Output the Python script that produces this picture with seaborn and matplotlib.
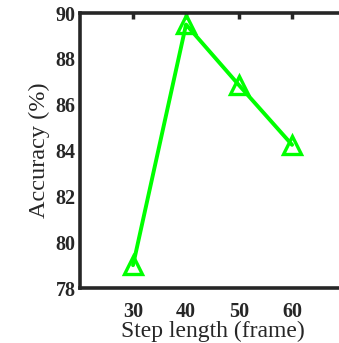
import matplotlib
matplotlib.use('Agg')
import matplotlib.pyplot as plt
import seaborn as sns
import pandas as pd

step_length = [30, 40, 50, 60]
accuracy = [79.0, 89.5, 86.85, 84.25]
x_ticks = [30, 40, 50, 60]
y_ticks = [78, 80, 82, 84, 86, 88, 90]

df = pd.DataFrame({'step': step_length, 'acc': accuracy})

sns.set_style('white')
plt.rcParams['font.family'] = ['Liberation Serif', 'DejaVu Serif']

fig = plt.figure(figsize=(3.39, 3.43), dpi=100)
# axes runs past the right edge, as in the cropped original
ax = fig.add_axes([0.236, 0.160, 0.782, 0.802])

sns.lineplot(data=df, x='step', y='acc', ax=ax, color='#00ff00', linewidth=2.8,
             marker='^', markersize=13, markerfacecolor='none',
             markeredgecolor='#00ff00', markeredgewidth=2.4, clip_on=False)

ax.set_xlim(20, 70)
ax.set_ylim(78, 90)
ax.set_xticks(x_ticks)
ax.set_yticks(y_ticks)
ax.tick_params(direction='in', length=4, width=2.5, color='#262626',
               top=True, right=True, labelsize=14.5)
ax.tick_params(axis='x', pad=10)
ax.tick_params(axis='y', pad=3)
for lab in ax.get_xticklabels() + ax.get_yticklabels():
    lab.set_fontweight('bold')
    lab.set_color('#262626')
for s in ax.spines.values():
    s.set_linewidth(2.6)
    s.set_color('#262626')
ax.set_xlabel('Step length (frame)', fontsize=17, labelpad=-1)
ax.set_ylabel('Accuracy (%)', fontsize=17.5, labelpad=4)

plt.savefig('out.png', dpi=100)
